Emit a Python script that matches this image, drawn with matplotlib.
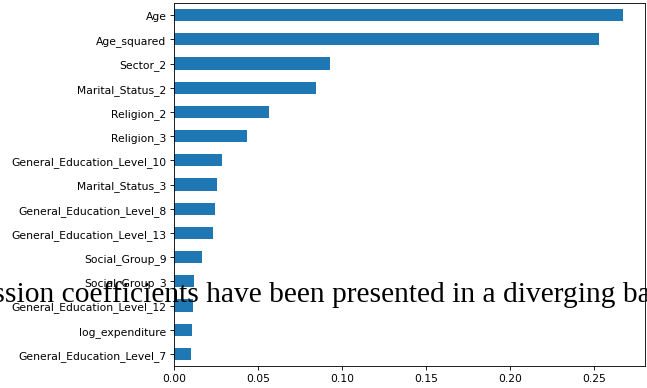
import matplotlib.pyplot as plt
import numpy as np

# coefficient magnitudes, smallest first (barh draws bottom-up)
features = [
    "General_Education_Level_7",
    "log_expenditure",
    "General_Education_Level_12",
    "Social_Group_3",
    "Social_Group_9",
    "General_Education_Level_13",
    "General_Education_Level_8",
    "Marital_Status_3",
    "General_Education_Level_10",
    "Religion_3",
    "Religion_2",
    "Marital_Status_2",
    "Sector_2",
    "Age_squared",
    "Age",
]
coefs = [0.0103, 0.0109, 0.0115, 0.0121, 0.0167, 0.0230, 0.0242, 0.0256,
         0.0286, 0.0433, 0.0562, 0.0843, 0.0929, 0.2528, 0.2667]

caption = "Regression coefficients have been presented in a diverging bar chart"

W, H, DPI = 647, 389, 77
fig = plt.figure(figsize=(W / DPI, H / DPI), dpi=DPI)
ax = fig.add_axes([174 / W, 1 - 367 / H, 471 / W, 363 / H])

pos = np.arange(len(features))
ax.barh(pos, coefs, height=0.5, color="#1f77b4")
ax.set_yticks(pos)
ax.set_yticklabels(features)
ax.set_ylim(-0.5, len(features) - 0.5)
ax.set_xlim(0, max(coefs) * 1.05)

# caption overlaid on the figure, running off both edges
fs = 27.6
renderer = fig.canvas.get_renderer()
probe = fig.text(0, 0, "Regression c", fontsize=fs, family="Liberation Serif")
w_full = probe.get_window_extent(renderer).width
probe.set_text("c")
w_c = probe.get_window_extent(renderer).width
probe.remove()
x0 = 62 - (w_full - w_c)
fig.text(x0 / W, 87 / H, caption, fontsize=fs, family="Liberation Serif",
         va="baseline", ha="left")

fig.savefig("out.png", dpi=DPI)
